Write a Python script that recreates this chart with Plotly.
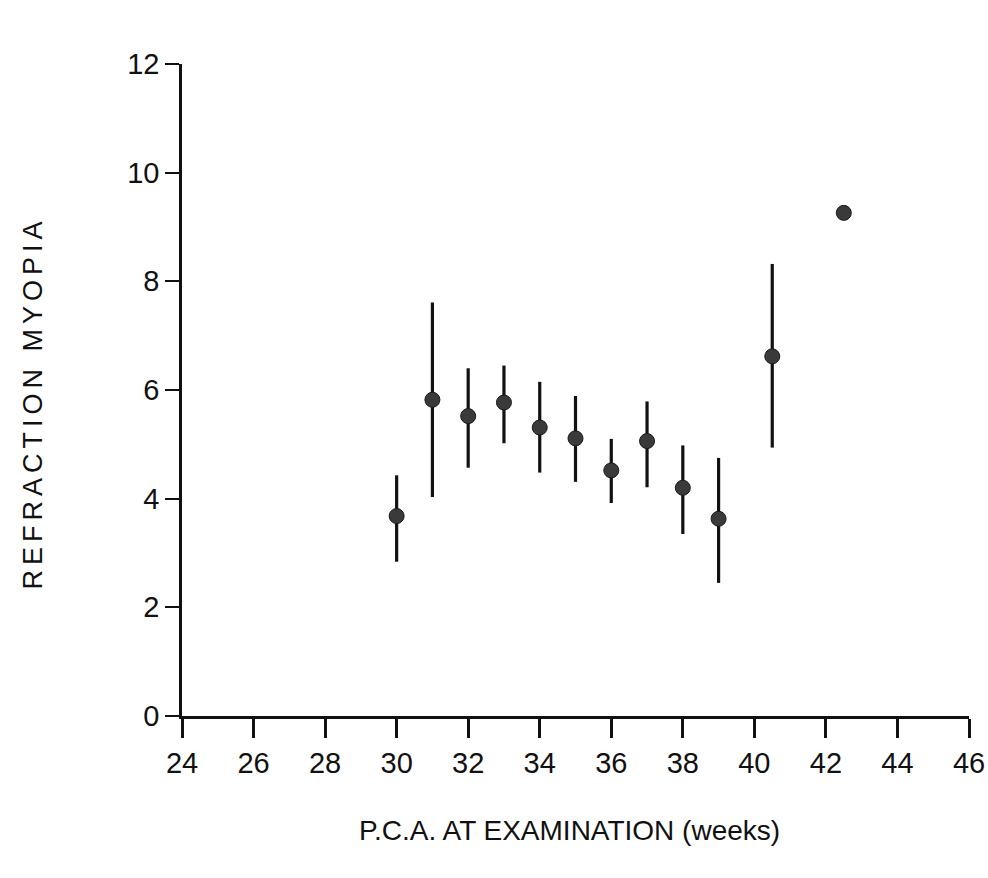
import plotly.graph_objects as go

# Data
weeks = [30, 31, 32, 33, 34, 35, 36, 37, 38, 39, 40.5, 42.5]
myopia = [3.68, 5.82, 5.52, 5.77, 5.31, 5.11, 4.52, 5.06, 4.20, 3.63, 6.62, 9.26]
err_upper = [4.43, 7.61, 6.40, 6.45, 6.15, 5.89, 5.10, 5.79, 4.98, 4.75, 8.32, 9.26]
err_lower = [2.84, 4.03, 4.57, 5.02, 4.48, 4.31, 3.92, 4.21, 3.35, 2.45, 4.94, 9.26]

x_ticks = list(range(24, 47, 2))
y_ticks = list(range(0, 13, 2))

plus = [u - m for u, m in zip(err_upper, myopia)]
minus = [m - l for m, l in zip(myopia, err_lower)]

fig = go.Figure()
fig.add_trace(go.Scatter(
    x=weeks, y=myopia, mode="markers",
    marker=dict(symbol="circle", size=15, color="#3a3a3a",
                line=dict(color="#1a1a1a", width=1)),
    error_y=dict(type="data", symmetric=False, array=plus, arrayminus=minus,
                 color="#111111", thickness=3.2, width=0),
    showlegend=False, cliponaxis=False,
))

font_family = "Liberation Sans, Arial, sans-serif"

fig.update_layout(
    width=988, height=878,
    margin=dict(l=182, r=19, t=64, b=162, autoexpand=False),
    paper_bgcolor="white", plot_bgcolor="white",
    font=dict(family=font_family, color="#111111"),
    xaxis=dict(range=[24, 46], tickvals=x_ticks, ticktext=[str(v) for v in x_ticks],
               showline=True, linecolor="#111111", linewidth=2.5,
               ticks="outside", ticklen=19, tickwidth=2.5, tickcolor="#111111",
               showgrid=False, zeroline=False, tickfont=dict(size=29),
               ticklabelstandoff=0, automargin=False, ticklabeloverflow="allow"),
    yaxis=dict(range=[0, 12], tickvals=y_ticks, ticktext=[str(v) for v in y_ticks],
               showline=True, linecolor="#111111", linewidth=2.5,
               ticks="outside", ticklen=14, tickwidth=2, tickcolor="#111111",
               showgrid=False, zeroline=False, tickfont=dict(size=29),
               ticklabelstandoff=0, automargin=False),
    annotations=[
        dict(text="REFRACTION MYOPIA", xref="paper", yref="paper",
             x=(33 - 182) / 787, y=(716 - 403) / 652, textangle=-90,
             showarrow=False, xanchor="center", yanchor="middle",
             font=dict(size=27, family=font_family, color="#111111")),
        dict(text="P.C.A. AT EXAMINATION (weeks)", xref="paper", yref="paper",
             x=(569 - 182) / 787, y=(716 - 830) / 652,
             showarrow=False, xanchor="center", yanchor="middle",
             font=dict(size=28, family=font_family, color="#111111")),
    ],
)

post = """
document.body.style.margin = '0';
document.body.style.overflow = 'hidden';
var gd = document.getElementById('{plot_id}');
var t = gd.querySelectorAll('.annotation-text');
if (t.length > 0) { t[0].style.letterSpacing = '5px'; }
"""
fig.write_html("out.html", post_script=post, config={"displayModeBar": False})
